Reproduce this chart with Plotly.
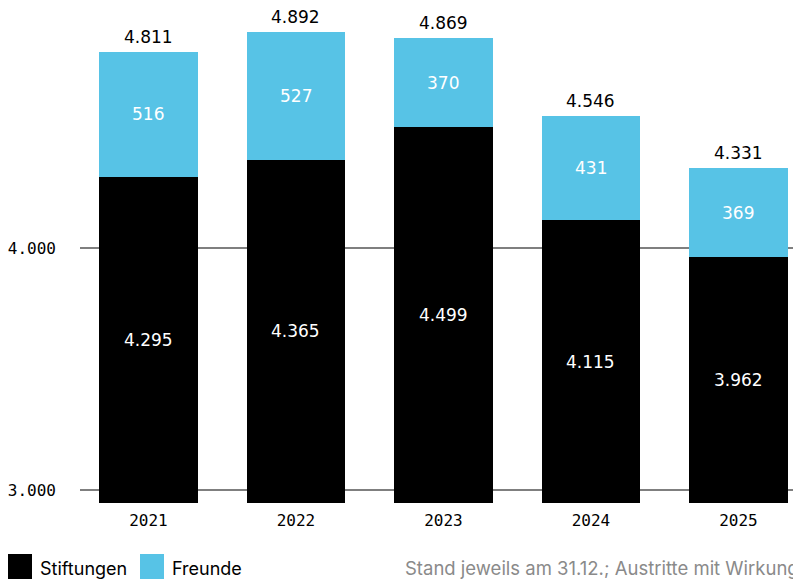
import plotly.graph_objects as go

years = ["2021", "2022", "2023", "2024", "2025"]
stiftungen = [4295, 4365, 4499, 4115, 3962]
freunde = [516, 527, 370, 431, 369]
tick_vals = [3000, 4000]
tick_text = ["3.000", "4.000"]

BLACK = "#000000"
BLUE = "#57C3E6"
Y_MIN, Y_MAX = 2946, 4992
MONO = "DejaVu Sans Mono"
VAL = "DejaVu Sans"
SANS = "Inter"

# page offset (browser body margin) compensation
OFF = 8
L, T, PW, PH = 72, 0, 721, 495


def px_x(sx):
    return (sx - OFF - L) / PW


def px_y(sy):
    return (PH - (sy - OFF - T)) / PH


def de(v):
    return f"{v:,}".replace(",", ".")


totals = [a + b for a, b in zip(stiftungen, freunde)]

fig = go.Figure()
fig.add_trace(go.Bar(x=years, y=stiftungen, name="Stiftungen",
                     marker=dict(color=BLACK, line=dict(width=0)), width=0.67))
fig.add_trace(go.Bar(x=years, y=freunde, name="Freunde",
                     marker=dict(color=BLUE, line=dict(width=0)), width=0.67))

ann = []
for i, yr in enumerate(years):
    s, f, t = stiftungen[i], freunde[i], totals[i]
    ann.append(dict(xref="x", yref="y", x=i, y=(Y_MIN + s) / 2, text=de(s), showarrow=False,
                    font=dict(family=VAL, size=17, color="white")))
    ann.append(dict(xref="x", yref="y", x=i, y=s + f / 2, text=de(f), showarrow=False,
                    font=dict(family=VAL, size=17, color="white")))
    ann.append(dict(xref="x", yref="y", x=i, y=t, text=de(t), showarrow=False, yanchor="bottom",
                    yshift=3, font=dict(family=VAL, size=17, color="black")))

ann.append(dict(xref="paper", yref="paper", x=px_x(38), y=px_y(568), xanchor="left", yanchor="middle",
                text="Stiftungen", showarrow=False, font=dict(family=SANS, size=18, color="black")))
ann.append(dict(xref="paper", yref="paper", x=px_x(170), y=px_y(568), xanchor="left", yanchor="middle",
                text="Freunde", showarrow=False, font=dict(family=SANS, size=18, color="black")))
ann.append(dict(xref="paper", yref="paper", x=px_x(403), y=px_y(568), xanchor="left", yanchor="middle",
                text="Stand jeweils am 31.12.; Austritte mit Wirkung", showarrow=False,
                font=dict(family=SANS, size=18.5, color="#8a8a8a")))

shapes = [
    dict(type="rect", xref="paper", yref="paper", x0=px_x(8), x1=px_x(32),
         y0=px_y(579), y1=px_y(554), fillcolor=BLACK, line=dict(width=0)),
    dict(type="rect", xref="paper", yref="paper", x0=px_x(140), x1=px_x(164),
         y0=px_y(579), y1=px_y(554), fillcolor=BLUE, line=dict(width=0)),
]

fig.update_layout(
    barmode="stack",
    width=801, height=579,
    margin=dict(l=L, r=801 - L - PW, t=T, b=579 - T - PH, pad=0),
    paper_bgcolor="white", plot_bgcolor="white",
    showlegend=False,
    annotations=ann,
    shapes=shapes,
    xaxis=dict(type="category", range=[-0.464, 4.424], showgrid=False, zeroline=False,
               showline=False, ticks="",
               tickfont=dict(family=MONO, size=16, color="black"), ticklabelstandoff=6),
    yaxis=dict(range=[Y_MIN, Y_MAX], tickvals=tick_vals, ticktext=tick_text, showgrid=True,
               gridcolor="#7f7f7f", gridwidth=1.5, zeroline=False, showline=False, ticks="",
               tickfont=dict(family=MONO, size=16, color="black"), ticklabelstandoff=23),
)

fig.write_html("out.html")
